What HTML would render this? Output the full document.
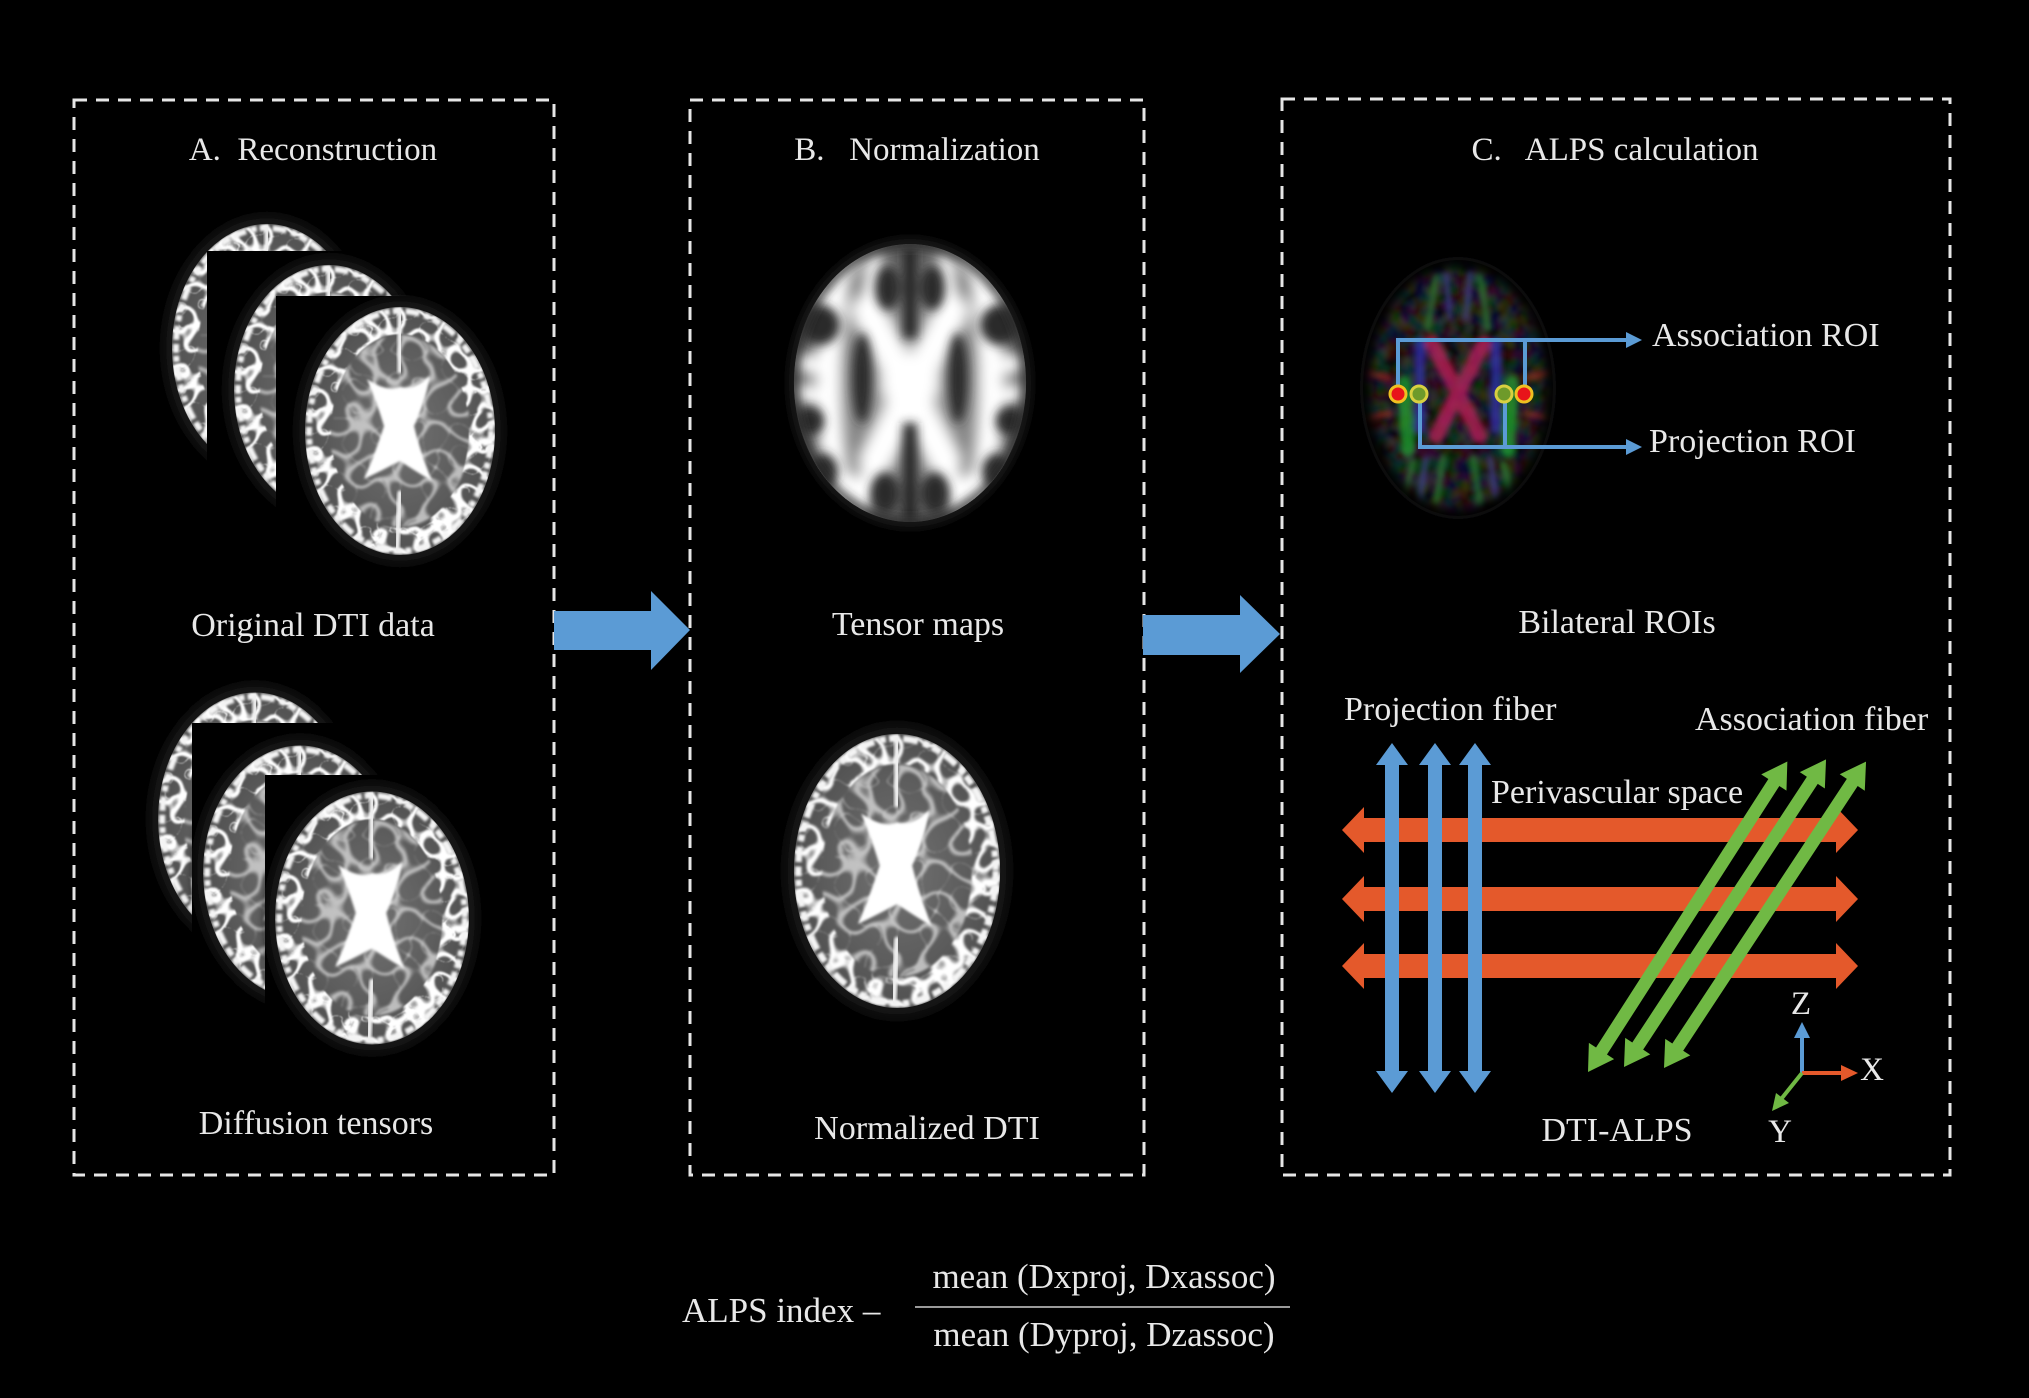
<!DOCTYPE html>
<html>
<head>
<meta charset="utf-8">
<style>
html,body{margin:0;padding:0;background:#000;}
svg{display:block;}
text{font-family:"Liberation Serif","Times New Roman",serif;fill:#e8e8e8;}
</style>
</head>
<body>
<svg width="2029" height="1398" viewBox="0 0 2029 1398" xmlns="http://www.w3.org/2000/svg">
<defs>
  <filter id="b1" x="-20%" y="-20%" width="140%" height="140%"><feGaussianBlur stdDeviation="1.2"/></filter>
  <filter id="b2" x="-20%" y="-20%" width="140%" height="140%"><feGaussianBlur stdDeviation="2"/></filter>
  <filter id="b3" x="-20%" y="-20%" width="140%" height="140%"><feGaussianBlur stdDeviation="3"/></filter>
  <filter id="b5" x="-30%" y="-30%" width="160%" height="160%"><feGaussianBlur stdDeviation="5"/></filter>
  <filter id="b7" x="-30%" y="-30%" width="160%" height="160%"><feGaussianBlur stdDeviation="7"/></filter>
  <!-- gyral texture: thin white creases -->
  <filter id="texA" x="-10%" y="-10%" width="120%" height="120%">
    <feTurbulence type="turbulence" baseFrequency="0.05" numOctaves="1" seed="5" result="n"/>
    <feColorMatrix in="n" type="matrix" values="0 0 0 0 1  0 0 0 0 1  0 0 0 0 1  -9 0 0 0 1.5" result="w"/>
    <feComposite in="w" in2="SourceAlpha" operator="in"/>
    <feGaussianBlur stdDeviation="0.9"/>
  </filter>
  <filter id="texB" x="-10%" y="-10%" width="120%" height="120%">
    <feTurbulence type="turbulence" baseFrequency="0.04" numOctaves="1" seed="11" result="n"/>
    <feColorMatrix in="n" type="matrix" values="0 0 0 0 1  0 0 0 0 1  0 0 0 0 1  -9 0 0 0 1.2" result="w"/>
    <feComposite in="w" in2="SourceAlpha" operator="in"/>
    <feGaussianBlur stdDeviation="1.2"/>
  </filter>
  <filter id="texC" x="-10%" y="-10%" width="120%" height="120%">
    <feTurbulence type="fractalNoise" baseFrequency="0.07" numOctaves="2" seed="7" result="n"/>
    <feColorMatrix in="n" type="matrix" values="3 0 0 0 -1.3  0 3 0 0 -1.3  0 0 3 0 -1.3  0 0 0 0 0.6" result="w"/>
    <feComposite in="w" in2="SourceAlpha" operator="in"/>
    <feGaussianBlur stdDeviation="1.5"/>
  </filter>
  <radialGradient id="rgGray" cx="50%" cy="50%" r="50%">
    <stop offset="0" stop-color="#727272"/>
    <stop offset="0.7" stop-color="#5c5c5c"/>
    <stop offset="1" stop-color="#505050"/>
  </radialGradient>
  <radialGradient id="rgFA" cx="50%" cy="50%" r="50%">
    <stop offset="0" stop-color="#a0a0a0"/>
    <stop offset="0.7" stop-color="#808080"/>
    <stop offset="1" stop-color="#5a5a5a"/>
  </radialGradient>
  <clipPath id="cFA"><ellipse cx="0" cy="0" rx="116" ry="139"/></clipPath>
  <clipPath id="cCol"><ellipse cx="0" cy="0" rx="95" ry="128"/></clipPath>
  <clipPath id="cDti"><ellipse cx="0" cy="0" rx="95" ry="124"/></clipPath>

  <!-- generic DTI (T2-like) axial slice, centred at 0,0 -->
  <g id="dti">
    <ellipse rx="104" ry="133" fill="#161616" filter="url(#b5)"/>
    <ellipse rx="95" ry="124" fill="url(#rgGray)"/>
    <g clip-path="url(#cDti)">
      <ellipse rx="70" ry="96" fill="#fff" opacity="0.6" filter="url(#texB)"/>
      <ellipse rx="82" ry="110" fill="none" stroke="#fff" stroke-width="26" filter="url(#texA)"/>
      <ellipse rx="91" ry="120" fill="none" stroke="#f4f4f4" stroke-width="6" stroke-dasharray="9 4 14 5 6 3" filter="url(#b1)"/>
    </g>
    <path fill="none" stroke="#f0f0f0" stroke-width="5" stroke-linecap="round" filter="url(#b1)" d="M0,-120L0,-60M0,62L-3,118"/>
    <path fill="#ffffff" filter="url(#b1)"
      d="M-33,-52 Q-12,-38 0,-44 Q12,-40 30,-55 Q24,-25 14,-5 Q20,20 32,50 Q12,38 0,30 Q-15,38 -36,48 Q-24,20 -16,-5 Q-22,-25 -33,-52 Z"/>
  </g>
</defs>

<!-- dashed panels -->
<g fill="none" stroke="#e6e6e6" stroke-width="3" stroke-dasharray="13 9">
  <rect x="74" y="100" width="480" height="1075"/>
  <rect x="690" y="100" width="454" height="1075"/>
  <rect x="1282" y="99" width="668" height="1076"/>
</g>

<!-- big blue arrows between panels -->
<polygon fill="#5b9bd5" points="554,611 651,611 651,591 690,630 651,670 651,650 554,650"/>
<polygon fill="#5b9bd5" points="1143,615 1240,615 1240,595 1280,634 1240,673 1240,655 1143,655"/>

<!-- Panel A titles -->
<text x="313" y="160" font-size="33" text-anchor="middle">A.&#160; Reconstruction</text>
<text x="313" y="636" font-size="34" text-anchor="middle">Original DTI data</text>
<text x="316" y="1134" font-size="34" text-anchor="middle">Diffusion tensors</text>

<!-- Panel A top stack -->
<use href="#dti" transform="translate(267,348)"/>
<rect x="207" y="251" width="330" height="330" fill="#000"/>
<use href="#dti" transform="translate(329,389)"/>
<rect x="276" y="296" width="262" height="300" fill="#000"/>
<use href="#dti" transform="translate(400,431)"/>

<!-- Panel A bottom stack -->
<use href="#dti" transform="translate(255,819) scale(1.02,1.02)"/>
<rect x="192" y="723" width="330" height="340" fill="#000"/>
<use href="#dti" transform="translate(300,872) scale(1.02,1.02)"/>
<rect x="265" y="775" width="260" height="300" fill="#000"/>
<use href="#dti" transform="translate(372,918) scale(1.02,1.02)"/>

<!-- Panel B -->
<text x="917" y="160" font-size="33" text-anchor="middle">B.&#160;&#160; Normalization</text>
<text x="918" y="635" font-size="34" text-anchor="middle">Tensor maps</text>
<text x="927" y="1139" font-size="34" text-anchor="middle">Normalized DTI</text>

<!-- FA tensor map -->
<g transform="translate(910,383)">
  <ellipse rx="121" ry="144" fill="#1c1c1c" filter="url(#b5)"/>
  <g clip-path="url(#cFA)">
    <ellipse rx="116" ry="139" fill="url(#rgFA)"/>
    <g filter="url(#b7)" fill="none" stroke="#ffffff" stroke-linecap="round">
      <path stroke-width="34" d="M-42,-72 L35,78 M42,-72 L-35,78"/>
      <path stroke-width="26" d="M-72,-105 Q-90,0 -72,105 M72,-105 Q90,0 72,105"/>
      <path stroke-width="16" d="M-42,-72 L-35,-125 M42,-72 L35,-125 M-72,-100 L-55,-125 M72,-100 L55,-125"/>
      <path stroke-width="18" d="M-82,-15 L-108,-20 M82,-15 L108,-20 M-84,15 L-108,10 M84,15 L108,10 M-80,75 L-100,95 M80,75 L100,95 M-75,-70 L-98,-95 M75,-70 L98,-95"/>
      <path stroke-width="20" d="M-35,78 L-50,125 M35,78 L50,125 M-60,100 L-75,125 M60,100 L75,125"/>
      <ellipse rx="30" ry="30" fill="#fff" stroke="none"/>
    </g>
    <g filter="url(#b5)" fill="#2a2a2a">
      <path d="M0,-135 L0,-45" stroke="#262626" stroke-width="14"/>
      <path d="M0,40 L0,140" stroke="#262626" stroke-width="14"/>
      <ellipse cx="-90" cy="-58" rx="20" ry="20"/>
      <ellipse cx="90" cy="-58" rx="20" ry="20"/>
      <ellipse cx="-100" cy="38" rx="14" ry="14"/>
      <ellipse cx="100" cy="38" rx="14" ry="14"/>
      <ellipse cx="-88" cy="88" rx="16" ry="18"/>
      <ellipse cx="88" cy="88" rx="16" ry="18"/>
      <ellipse cx="-48" cy="-5" rx="10" ry="45"/>
      <ellipse cx="48" cy="-5" rx="10" ry="45"/>
      <ellipse cx="-22" cy="-95" rx="12" ry="22"/>
      <ellipse cx="22" cy="-95" rx="12" ry="22"/>
      <ellipse cx="-25" cy="110" rx="14" ry="20"/>
      <ellipse cx="25" cy="110" rx="14" ry="20"/>
    </g>
    <ellipse rx="116" ry="139" fill="none" stroke="#2a2a2a" stroke-width="8" filter="url(#b5)"/>
  </g>
</g>

<!-- Normalized DTI -->
<use href="#dti" transform="translate(897,871) scale(1.085,1.105)"/>

<!-- Panel C -->
<text x="1615" y="160" font-size="33" text-anchor="middle">C.&#160;&#160; ALPS calculation</text>
<text x="1617" y="633" font-size="34" text-anchor="middle">Bilateral ROIs</text>

<!-- colour FA brain -->
<g transform="translate(1458,388)">
  <ellipse rx="98" ry="131" fill="#0a0a0e" filter="url(#b3)"/>
  <g clip-path="url(#cCol)">
    <ellipse rx="95" ry="128" fill="#fff" opacity="0.28" filter="url(#texC)"/>
    <g fill="none" stroke-linecap="round" filter="url(#b3)" opacity="0.75">
      <path stroke="#2f7a34" stroke-width="7" d="M-30,-60 L-22,-112 M30,-60 L22,-112 M-15,70 L-22,115 M15,70 L22,115 M-45,75 L-55,110 M45,75 L55,110"/>
      <path stroke="#404090" stroke-width="6" d="M-8,-70 L-12,-115 M8,-70 L12,-115 M-32,70 L-38,110 M32,70 L38,110"/>
      <path stroke="#8a2a22" stroke-width="7" d="M-70,-10 L-90,-15 M-68,25 L-90,30 M70,-10 L90,-15 M68,25 L90,30"/>
      <path stroke="#c0205f" stroke-width="15" d="M-26,-45 L22,48 M26,-45 L-22,48"/>
      <path stroke="#3030b0" stroke-width="11" d="M-38,-45 L-38,40 M38,-45 L38,40"/>
      <path stroke="#20a030" stroke-width="14" d="M-54,-5 L-50,62 M54,-5 L50,62"/>
    </g>
    <ellipse rx="95" ry="128" fill="none" stroke="#000" stroke-width="14" filter="url(#b5)"/>
  </g>
</g>

<!-- ROI connectors -->
<g stroke="#5b9bd5" stroke-width="4" fill="none">
  <path d="M1398,394 L1398,340 L1628,340 M1525,340 L1525,394"/>
  <path d="M1420,394 L1420,447 L1628,447 M1505,447 L1505,394"/>
</g>
<polygon fill="#5b9bd5" points="1626,332 1642,340 1626,348"/>
<polygon fill="#5b9bd5" points="1626,439 1642,447 1626,455"/>
<g stroke-width="3">
  <circle cx="1398" cy="394" r="8" fill="#e8141a" stroke="#f0c020"/>
  <circle cx="1524" cy="394" r="8" fill="#e8141a" stroke="#f0c020"/>
  <circle cx="1419" cy="394" r="8" fill="#6e9a2a" stroke="#d8d040"/>
  <circle cx="1504" cy="394" r="8" fill="#6e9a2a" stroke="#d8d040"/>
</g>
<text x="1652" y="346" font-size="34">Association ROI</text>
<text x="1649" y="452" font-size="34">Projection ROI</text>

<!-- DTI-ALPS schematic -->
<text x="1344" y="720" font-size="34">Projection fiber</text>
<text x="1695" y="730" font-size="34">Association fiber</text>
<text x="1491" y="803" font-size="34">Perivascular space</text>

<!-- orange perivascular arrows -->
<g fill="#e4592b">
  <polygon points="1342,830 1364,807 1364,818 1836,818 1836,807 1858,830 1836,853 1836,842 1364,842 1364,853"/>
  <polygon points="1342,899 1364,876 1364,887 1836,887 1836,876 1858,899 1836,922 1836,911 1364,911 1364,922"/>
  <polygon points="1342,966 1364,943 1364,954 1836,954 1836,943 1858,966 1836,989 1836,978 1364,978 1364,989"/>
</g>

<!-- blue projection arrows -->
<g fill="#5b9bd5">
  <polygon points="1392,743 1408,765 1399,765 1399,1071 1408,1071 1392,1093 1376,1071 1385,1071 1385,765 1376,765"/>
  <polygon points="1435,743 1451,765 1442,765 1442,1071 1451,1071 1435,1093 1419,1071 1428,1071 1428,765 1419,765"/>
  <polygon points="1475,743 1491,765 1482,765 1482,1071 1491,1071 1475,1093 1459,1071 1468,1071 1468,765 1459,765"/>
</g>

<!-- green association arrows -->
<g fill="#70b944">
  <polygon transform="translate(1588,1072) rotate(-57.3)" points="0,0 25,-15 25,-6.5 344,-6.5 344,-15 369,0 344,15 344,6.5 25,6.5 25,15"/>
  <polygon transform="translate(1624,1067) rotate(-56.7)" points="0,0 25,-15 25,-6.5 343,-6.5 343,-15 368,0 343,15 343,6.5 25,6.5 25,15"/>
  <polygon transform="translate(1664,1068) rotate(-56.6)" points="0,0 25,-15 25,-6.5 342,-6.5 342,-15 367,0 342,15 342,6.5 25,6.5 25,15"/>
</g>

<!-- axes -->
<g stroke-width="4" fill="none">
  <path d="M1802,1073 L1802,1036" stroke="#5b9bd5"/>
  <path d="M1802,1073 L1842,1073" stroke="#e4592b"/>
  <path d="M1802,1073 L1782,1098" stroke="#70b944"/>
</g>
<polygon fill="#5b9bd5" points="1802,1022 1810,1038 1794,1038"/>
<polygon fill="#e4592b" points="1858,1073 1841,1065 1841,1081"/>
<polygon fill="#70b944" points="1772,1111 1776,1093 1789,1103"/>
<text x="1801" y="1014" font-size="33" text-anchor="middle">Z</text>
<text x="1872" y="1080" font-size="33" text-anchor="middle">X</text>
<text x="1780" y="1142" font-size="33" text-anchor="middle">Y</text>
<text x="1617" y="1141" font-size="34" text-anchor="middle">DTI-ALPS</text>

<!-- formula -->
<text x="682" y="1322" font-size="35">ALPS index –</text>
<text x="1104" y="1288" font-size="35" text-anchor="middle">mean (Dxproj, Dxassoc)</text>
<line x1="915" y1="1307" x2="1290" y2="1307" stroke="#9a9a9a" stroke-width="2"/>
<text x="1104" y="1346" font-size="35" text-anchor="middle">mean (Dyproj, Dzassoc)</text>
</svg>
</body>
</html>
